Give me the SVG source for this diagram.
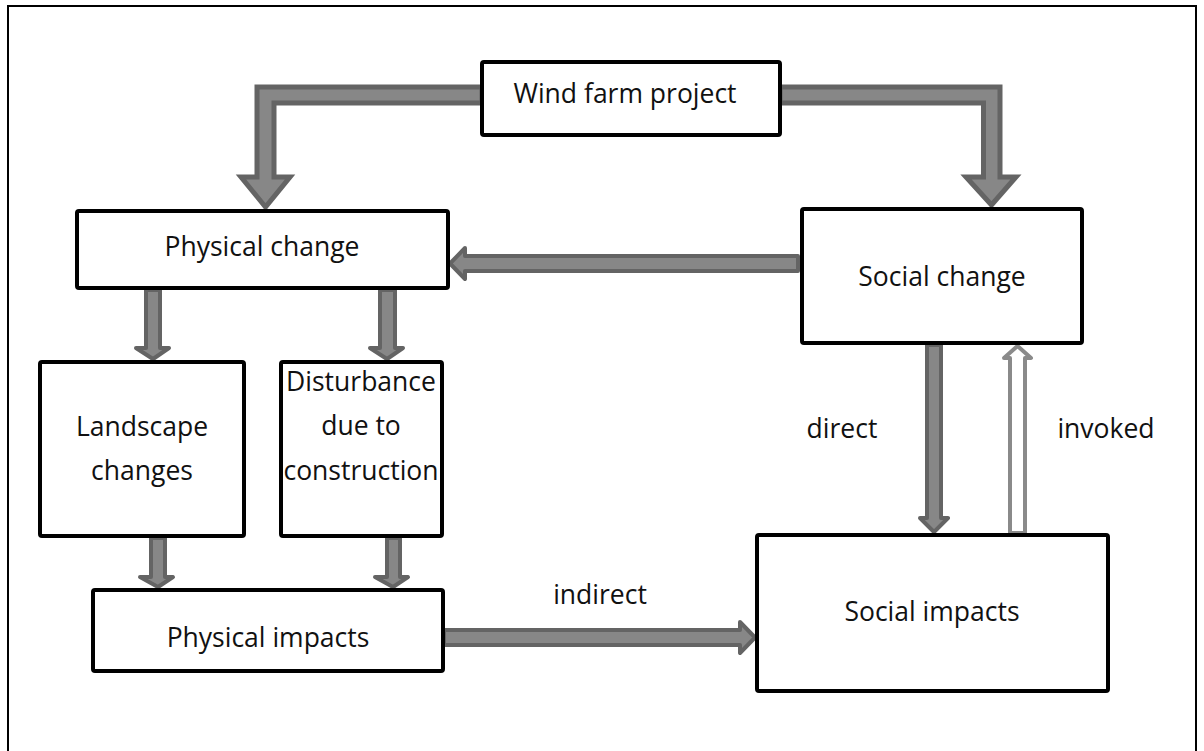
<svg xmlns="http://www.w3.org/2000/svg" width="1204" height="751" viewBox="0 0 1204 751">
  <style>
    .box { fill: #ffffff; stroke: #000000; stroke-width: 4; stroke-linejoin: round; }
    .lbl { font-family: "Open Sans", "Liberation Sans", sans-serif; font-size: 26.5px; fill: #111111; text-anchor: middle; }
    .arr { fill: #878787; stroke: #646464; stroke-width: 5; stroke-linejoin: miter; }
    .arr-s { fill: #878787; stroke: #646464; stroke-width: 4; stroke-linejoin: round; }
    .hollow { fill: #ffffff; stroke: #8a8a8a; stroke-width: 4; stroke-linejoin: round; }
  </style>

  <!-- page frame -->
  <rect x="8" y="6" width="1188" height="760" fill="#ffffff" stroke="#000000" stroke-width="2"/>

  <g id="connectors">
    <!-- project -> physical change (elbow) -->
    <polygon class="arr" points="482,87 257,87 257,177 241,177 265.5,207 290,177 274,177 274,103 482,103"/>
    <!-- project -> social change (elbow) -->
    <polygon class="arr" points="780,87 1000,87 1000,177 1016,177 991.5,205 966,177 983.5,177 983.5,103 780,103"/>
    <!-- social change -> physical change -->
    <polygon class="arr-s" points="798,256 465,256 465,248 450,263.5 465,279 465,271 798,271"/>
    <!-- physical change -> landscape changes -->
    <polygon class="arr-s" points="146,290 146,348 136,348 153,359 169,348 160,348 160,290"/>
    <!-- physical change -> disturbance -->
    <polygon class="arr-s" points="380,290 380,348 370,348 387,359 403,348 395,348 395,290"/>
    <!-- landscape changes -> physical impacts -->
    <polygon class="arr-s" points="151,538 151,577 140,577 158,587 173,577 165,577 165,538"/>
    <!-- disturbance -> physical impacts -->
    <polygon class="arr-s" points="387,538 387,577 375,577 393,587 408,577 400,577 400,538"/>
    <!-- physical impacts -> social impacts (indirect) -->
    <polygon class="arr-s" points="444,630 740,630 740,622 755,637.5 740,653 740,645 444,645"/>
    <!-- social change -> social impacts (direct) -->
    <polygon class="arr-s" points="927,345 927,518 920,518 934,532 948,518 941,518 941,345"/>
    <!-- social impacts -> social change (invoked) -->
    <polygon class="hollow" points="1010,533 1010,358 1004,358 1017.5,346 1031,358 1025,358 1025,533"/>
  </g>

  <g id="node-wind-farm-project">
    <rect class="box" x="482" y="62" width="298" height="73" rx="2"/>
    <text class="lbl" x="625" y="103">Wind farm project</text>
  </g>

  <g id="node-physical-change">
    <rect class="box" x="77" y="211" width="371" height="77" rx="2"/>
    <text class="lbl" x="262" y="256">Physical change</text>
  </g>

  <g id="node-social-change">
    <rect class="box" x="802" y="209" width="280" height="134" rx="2"/>
    <text class="lbl" x="942" y="286">Social change</text>
  </g>

  <g id="node-landscape-changes">
    <rect class="box" x="40" y="362" width="204" height="174" rx="2"/>
    <text class="lbl" x="142" y="436">Landscape</text>
    <text class="lbl" x="142" y="480">changes</text>
  </g>

  <g id="node-disturbance">
    <rect class="box" x="281" y="362" width="161" height="174" rx="2"/>
    <text class="lbl" x="361" y="391">Disturbance</text>
    <text class="lbl" x="361" y="435">due to</text>
    <text class="lbl" x="361" y="480">construction</text>
  </g>

  <g id="node-physical-impacts">
    <rect class="box" x="93" y="590" width="350" height="81" rx="2"/>
    <text class="lbl" x="268" y="647">Physical impacts</text>
  </g>

  <g id="node-social-impacts">
    <rect class="box" x="757" y="535" width="351" height="156" rx="2"/>
    <text class="lbl" x="932" y="621">Social impacts</text>
  </g>

  <!-- connector labels -->
  <text class="lbl" x="600" y="604">indirect</text>
  <text class="lbl" x="842" y="438">direct</text>
  <text class="lbl" x="1106" y="438">invoked</text>
</svg>
